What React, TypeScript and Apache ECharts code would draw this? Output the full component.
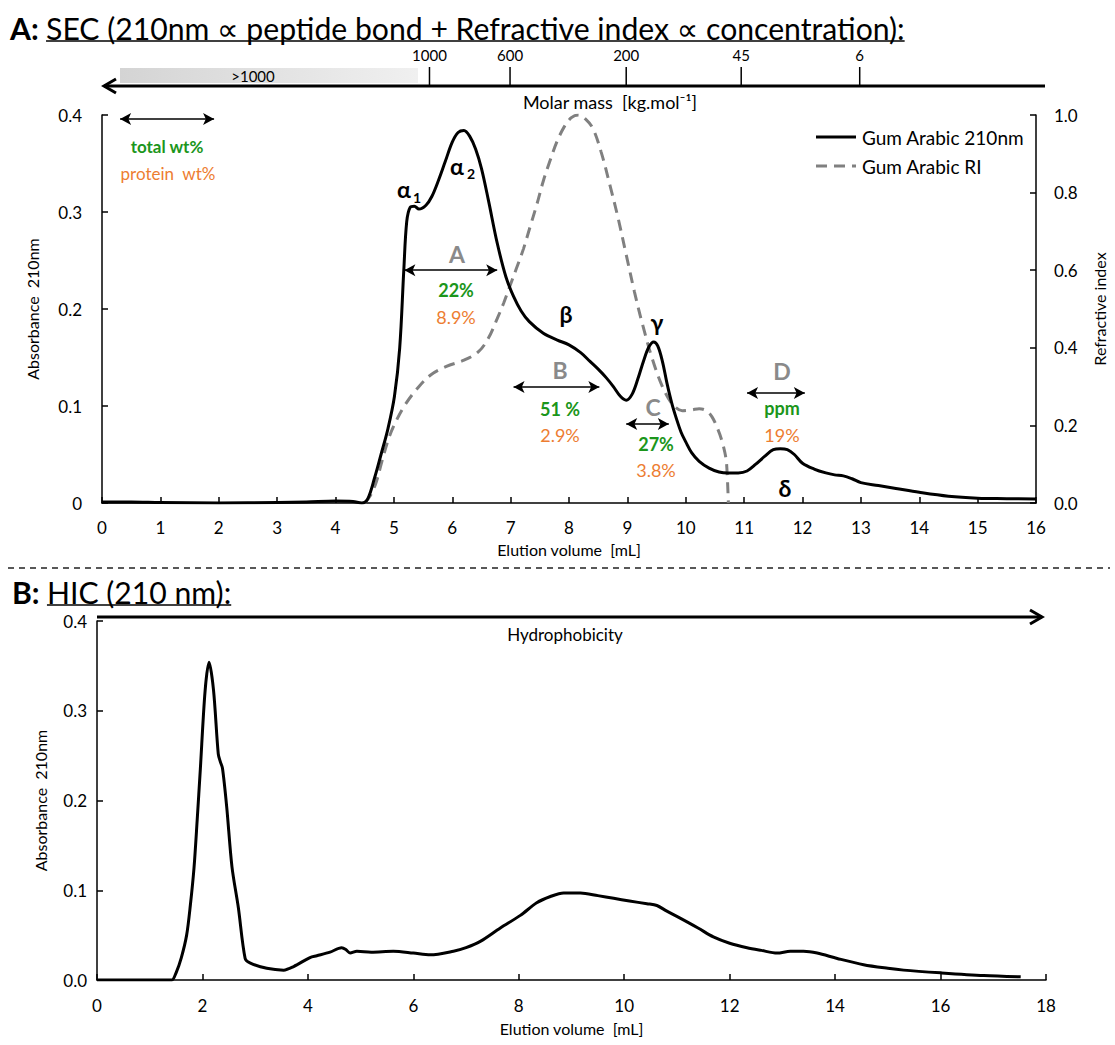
import React, { useEffect, useRef } from "react";
import * as echarts from "echarts";

const FONT = "Lato, 'Open Sans', 'DejaVu Sans', sans-serif";
const GREEN = "#1b961b";
const ORANGE = "#ed7d31";
const GRAY = "#8a8a8a";

// ---- Panel A: SEC, absorbance 210 nm (left axis) ----
const secX = [0, 0.5, 1, 2, 3, 3.5, 4, 4.3, 4.45, 4.55, 4.67, 4.78, 4.9, 5.01, 5.1, 5.17, 5.22, 5.28, 5.35, 5.43, 5.55, 5.65, 5.76, 5.88, 6.0, 6.1, 6.2, 6.3, 6.4, 6.5, 6.62, 6.77, 6.92, 7.05, 7.18, 7.32, 7.56, 7.8, 8.0, 8.2, 8.36, 8.5, 8.64, 8.76, 8.88, 8.98, 9.08, 9.18, 9.28, 9.37, 9.45, 9.52, 9.6, 9.68, 9.76, 9.84, 9.92, 10.0, 10.1, 10.23, 10.4, 10.57, 10.73, 10.9, 11.05, 11.2, 11.35, 11.5, 11.62, 11.74, 11.86, 12.0, 12.2, 12.4, 12.55, 12.7, 12.85, 13.0, 13.3, 13.6, 14.0, 14.5, 15.0, 15.5, 16.0];
const sec210 = [0.001, 0.001, 0.0005, 0.0, 0.0005, 0.001, 0.002, 0.0015, 0.0, 0.004, 0.026, 0.05, 0.077, 0.11, 0.16, 0.24, 0.29, 0.305, 0.306, 0.303, 0.307, 0.316, 0.332, 0.352, 0.372, 0.382, 0.384, 0.378, 0.365, 0.345, 0.312, 0.268, 0.233, 0.213, 0.198, 0.187, 0.175, 0.168, 0.163, 0.155, 0.146, 0.138, 0.129, 0.12, 0.11, 0.106, 0.112, 0.128, 0.147, 0.161, 0.166, 0.162, 0.146, 0.123, 0.103, 0.087, 0.073, 0.063, 0.052, 0.043, 0.036, 0.032, 0.031, 0.031, 0.033, 0.04, 0.048, 0.055, 0.056, 0.055, 0.05, 0.041, 0.035, 0.031, 0.029, 0.028, 0.025, 0.021, 0.018, 0.015, 0.011, 0.007, 0.005, 0.0045, 0.004];

// ---- Panel A: refractive index (right axis) ----
const riX = [4.5, 4.6, 4.7, 4.8, 4.92, 5.05, 5.2, 5.4, 5.63, 5.9, 6.2, 6.45, 6.62, 6.77, 6.88, 6.99, 7.1, 7.22, 7.33, 7.45, 7.56, 7.67, 7.79, 7.92, 8.04, 8.16, 8.28, 8.41, 8.55, 8.7, 8.84, 8.98, 9.12, 9.26, 9.43, 9.6, 9.77, 9.94, 10.1, 10.23, 10.35, 10.45, 10.55, 10.62, 10.67, 10.7, 10.73];
const riVal = [0.0, 0.02, 0.055, 0.11, 0.17, 0.215, 0.255, 0.295, 0.33, 0.352, 0.368, 0.39, 0.425, 0.475, 0.515, 0.56, 0.605, 0.655, 0.71, 0.77, 0.83, 0.88, 0.93, 0.97, 0.993, 1.0, 0.99, 0.965, 0.905, 0.82, 0.735, 0.64, 0.545, 0.46, 0.37, 0.3, 0.255, 0.238, 0.24, 0.243, 0.238, 0.222, 0.19, 0.16, 0.13, 0.1, 0.0];

// ---- Panel B: HIC, absorbance 210 nm ----
const hicX = [0, 0.5, 1.0, 1.3, 1.42, 1.5, 1.6, 1.7, 1.77, 1.84, 1.9, 1.96, 2.05, 2.125, 2.21, 2.3, 2.34, 2.38, 2.46, 2.56, 2.68, 2.81, 2.9, 3.22, 3.54, 3.73, 4.04, 4.17, 4.42, 4.64, 4.72, 4.8, 4.93, 5.2, 5.62, 6.0, 6.32, 6.76, 7.0, 7.27, 7.65, 8.03, 8.34, 8.6, 8.85, 9.17, 9.5, 9.8, 10.1, 10.43, 10.62, 10.8, 11.06, 11.4, 11.69, 12.0, 12.33, 12.6, 12.9, 13.15, 13.4, 13.66, 14.04, 14.54, 15.0, 15.3, 16.0, 16.82, 17.52];
const hicVal = [0, 0, 0, 0, 0, 0.008, 0.025, 0.05, 0.083, 0.125, 0.178, 0.235, 0.322, 0.354, 0.323, 0.252, 0.243, 0.236, 0.193, 0.126, 0.081, 0.024, 0.019, 0.013, 0.011, 0.015, 0.025, 0.027, 0.031, 0.036, 0.034, 0.03, 0.032, 0.031, 0.032, 0.03, 0.028, 0.032, 0.036, 0.043, 0.058, 0.072, 0.086, 0.093, 0.097, 0.097, 0.094, 0.091, 0.088, 0.085, 0.083, 0.077, 0.069, 0.058, 0.048, 0.041, 0.036, 0.033, 0.03, 0.032, 0.032, 0.03, 0.024, 0.017, 0.013, 0.011, 0.008, 0.005, 0.0035];

// ---- Molar mass scale (top of panel A) ----
const molarLabels = ["1000", "600", "200", "45", "6"];
const molarElution = [5.61, 6.99, 8.98, 10.95, 12.98];

// ---- Fraction arrows (elution volume from/to, absorbance level) ----
const arrowFrom = [0.31, 5.18, 7.05, 8.98, 11.05];
const arrowTo = [1.92, 6.77, 8.52, 9.71, 12.04];
const arrowLevel = [0.396, 0.24, 0.1196, 0.0814, 0.1134];

const legendNames = ["Gum Arabic 210nm", "Gum Arabic RI"];
const titleA = "SEC (210nm \u221D peptide bond + Refractive index \u221D concentration):";
const titleB = "HIC (210 nm):";

function measure(text: string, font: string) {
  const ctx = document.createElement("canvas").getContext("2d")!;
  ctx.font = font;
  return ctx.measureText(text).width;
}

export default function App() {
  const ref = useRef<HTMLDivElement>(null);
  useEffect(() => {
    const chart = echarts.init(ref.current!, null, { renderer: "svg" });
    const axisLine = { lineStyle: { color: "#000", width: 1.5 } };
    const axisTick = { inside: true, length: 6, lineStyle: { color: "#000", width: 1.5 } };
    const lbl = (margin: number, fmt?: any) => ({ color: "#000", fontSize: 17, fontFamily: FONT, margin, formatter: fmt });
    const nameStyle = { color: "#000", fontSize: 16, fontFamily: FONT };

    chart.setOption({
      animation: false,
      textStyle: { fontFamily: FONT },
      grid: [
        { left: 102, top: 115, width: 941, height: 388 },
        { left: 97, top: 621, width: 949, height: 359 },
      ],
      xAxis: [
        {
          type: "value", gridIndex: 0, min: 0, max: 16, interval: 1,
          name: "Elution volume  [mL]", nameLocation: "middle", nameGap: 38, nameTextStyle: nameStyle,
          axisLine, axisTick, axisLabel: lbl(16), splitLine: { show: false },
        },
        {
          type: "value", gridIndex: 1, min: 0, max: 18, interval: 2,
          name: "Elution volume  [mL]", nameLocation: "middle", nameGap: 40, nameTextStyle: nameStyle,
          axisLine, axisTick, axisLabel: lbl(17), splitLine: { show: false },
        },
      ],
      yAxis: [
        {
          type: "value", gridIndex: 0, min: 0, max: 0.4, interval: 0.1,
          name: "Absorbance  210nm", nameLocation: "middle", nameRotate: 90, nameGap: 62, nameTextStyle: nameStyle,
          axisLine: { show: true, ...axisLine }, axisTick, splitLine: { show: false },
          axisLabel: lbl(20, (v: number) => (v === 0 ? "0" : v.toFixed(1))),
        },
        {
          type: "value", gridIndex: 0, position: "right", min: 0, max: 1, interval: 0.2,
          name: "Refractive index", nameLocation: "middle", nameRotate: 90, nameGap: 55, nameTextStyle: nameStyle,
          axisLine: { show: true, ...axisLine }, axisTick, splitLine: { show: false },
          axisLabel: lbl(18, (v: number) => v.toFixed(1)),
        },
        {
          type: "value", gridIndex: 1, min: 0, max: 0.4, interval: 0.1,
          name: "Absorbance  210nm", nameLocation: "middle", nameRotate: 90, nameGap: 49, nameTextStyle: nameStyle,
          axisLine: { show: true, ...axisLine }, axisTick, splitLine: { show: false },
          axisLabel: lbl(10, (v: number) => v.toFixed(1)),
        },
      ],
      series: [
        {
          name: legendNames[0], type: "line", xAxisIndex: 0, yAxisIndex: 0,
          data: secX.map((x, i) => [x, sec210[i]]),
          symbol: "none", smooth: 0.35,
          lineStyle: { color: "#000", width: 3, join: "round" }, itemStyle: { color: "#000" },
          z: 3,
          markLine: {
            silent: true, symbol: ["arrow", "arrow"], symbolSize: [9, 11],
            label: { show: false },
            lineStyle: { color: "#000", width: 1.5, type: "solid" },
            data: arrowFrom.map((f, i) => [{ coord: [f, arrowLevel[i]] }, { coord: [arrowTo[i], arrowLevel[i]] }]),
          },
        },
        {
          name: legendNames[1], type: "line", xAxisIndex: 0, yAxisIndex: 1,
          data: riX.map((x, i) => [x, riVal[i]]),
          symbol: "none", smooth: 0.35,
          lineStyle: { color: "#808080", width: 3, type: [11, 7] }, itemStyle: { color: "#808080" },
          z: 2,
        },
        {
          name: "HIC", type: "line", xAxisIndex: 1, yAxisIndex: 2,
          data: hicX.map((x, i) => [x, hicVal[i]]),
          symbol: "none", smooth: 0.3,
          lineStyle: { color: "#000", width: 3, join: "round" },
        },
      ],
    });

    // Title sizing
    const target = 895;
    const base = 26;
    const wAt = measure("A: ", `bold ${base}px ${FONT}`) + measure(titleA, `${base}px ${FONT}`);
    const fs = (base * target) / wAt;
    const wBoldA = measure("A: ", `bold ${fs}px ${FONT}`);
    const wRestA = measure(titleA, `${fs}px ${FONT}`);
    const wBoldB = measure("B: ", `bold ${fs}px ${FONT}`);
    const wRestB = measure(titleB, `${fs}px ${FONT}`);

    const t = (text: string, x: number, y: number, opts: any = {}) => ({
      type: "text", x, y, silent: true,
      style: {
        text, fontFamily: FONT, fontSize: opts.size || 16, fontWeight: opts.bold ? "bold" : "normal",
        fill: opts.color || "#000", align: opts.align || "center", verticalAlign: "middle",
      },
    });

    const g: any[] = [];
    // Title A
    g.push({
      type: "text", x: 10, y: 28, silent: true,
      style: {
        text: "{b|A: }{r|" + titleA + "}", verticalAlign: "middle", align: "left",
        rich: { b: { fontFamily: FONT, fontSize: fs, fontWeight: "bold", fill: "#000" }, r: { fontFamily: FONT, fontSize: fs, fill: "#000" } },
      },
    });
    g.push({ type: "line", silent: true, shape: { x1: 10 + wBoldA, y1: 41, x2: 10 + wBoldA + wRestA, y2: 41 }, style: { stroke: "#000", lineWidth: 1.6 } });

    // Molar mass axis
    g.push({
      type: "rect", silent: true, shape: { x: 120, y: 68, width: 298, height: 15 },
      style: { fill: new echarts.graphic.LinearGradient(0, 0, 1, 0, [{ offset: 0, color: "#d4d4d4" }, { offset: 1, color: "#f0f0f0" }]) },
    });
    g.push(t(">1000", 253, 76, { size: 15 }));
    g.push({ type: "line", silent: true, shape: { x1: 104, y1: 86, x2: 1045, y2: 86 }, style: { stroke: "#000", lineWidth: 3 } });
    g.push({ type: "polyline", silent: true, shape: { points: [[116, 79], [104, 86], [116, 93]] }, style: { stroke: "#000", lineWidth: 3, fill: null } });
    molarElution.forEach((v, i) => {
      const px = chart.convertToPixel({ xAxisIndex: 0 }, v) as number;
      g.push({ type: "line", silent: true, shape: { x1: px, y1: 67, x2: px, y2: 86 }, style: { stroke: "#000", lineWidth: 1.5 } });
      g.push(t(molarLabels[i], px, 55, { size: 15 }));
    });
    g.push(t("Molar mass  [kg.mol\u207B\u00B9]", 610, 102, { size: 18 }));

    // Legend (drawn)
    g.push({ type: "line", silent: true, shape: { x1: 816, y1: 137, x2: 856, y2: 137 }, style: { stroke: "#000", lineWidth: 3 } });
    g.push({ type: "line", silent: true, shape: { x1: 816, y1: 166, x2: 856, y2: 166 }, style: { stroke: "#808080", lineWidth: 3, lineDash: [11, 7] } });
    g.push(t(legendNames[0], 862, 137, { size: 19, align: "left" }));
    g.push(t(legendNames[1], 862, 166, { size: 19, align: "left" }));

    // Separator
    g.push({ type: "line", silent: true, shape: { x1: 8, y1: 568, x2: 1110, y2: 568 }, style: { stroke: "#222", lineWidth: 1.3, lineDash: [6, 5] } });

    // Title B
    g.push({
      type: "text", x: 12, y: 592, silent: true,
      style: {
        text: "{b|B: }{r|" + titleB + "}", verticalAlign: "middle", align: "left",
        rich: { b: { fontFamily: FONT, fontSize: fs, fontWeight: "bold", fill: "#000" }, r: { fontFamily: FONT, fontSize: fs, fill: "#000" } },
      },
    });
    g.push({ type: "line", silent: true, shape: { x1: 12 + wBoldB, y1: 605, x2: 12 + wBoldB + wRestB, y2: 605 }, style: { stroke: "#000", lineWidth: 1.6 } });

    // Hydrophobicity arrow
    g.push({ type: "line", silent: true, shape: { x1: 97, y1: 617, x2: 1042, y2: 617 }, style: { stroke: "#000", lineWidth: 3 } });
    g.push({ type: "polyline", silent: true, shape: { points: [[1030, 610], [1042, 617], [1030, 624]] }, style: { stroke: "#000", lineWidth: 3, fill: null } });
    g.push(t("Hydrophobicity", 565, 634, { size: 17 }));

    // Annotations
    g.push(t("total wt%", 167, 146, { size: 17, bold: true, color: GREEN }));
    g.push(t("protein  wt%", 168, 173, { size: 17, color: ORANGE }));
    const frac = [
      ["A", 457, 254, "22%", 456, 290, "8.9%", 456, 317],
      ["B", 560, 370, "51 %", 560, 409, "2.9%", 560, 435],
      ["C", 653, 407, "27%", 656, 444, "3.8%", 656, 470],
      ["D", 782, 371, "ppm", 782, 408, "19%", 782, 435],
    ] as any[];
    frac.forEach((f) => {
      g.push(t(f[0], f[1], f[2], { size: 23, bold: true, color: GRAY }));
      g.push(t(f[3], f[4], f[5], { size: 18, bold: true, color: GREEN }));
      g.push(t(f[6], f[7], f[8], { size: 18, color: ORANGE }));
    });
    g.push(t("\u03B1", 404, 189, { size: 23, bold: true }));
    g.push(t("1", 417, 197, { size: 14, bold: true }));
    g.push(t("\u03B1", 457, 166, { size: 23, bold: true }));
    g.push(t("2", 471, 173, { size: 14, bold: true }));
    g.push(t("\u03B2", 566, 314, { size: 23, bold: true }));
    g.push(t("\u03B3", 657, 322, { size: 23, bold: true }));
    g.push(t("\u03B4", 785, 488, { size: 23, bold: true }));

    chart.setOption({ graphic: g });
    return () => chart.dispose();
  }, []);
  return <div ref={ref} style={{ position: "absolute", left: 0, top: 0, width: 1115, height: 1045, background: "#fff" }} />;
}
